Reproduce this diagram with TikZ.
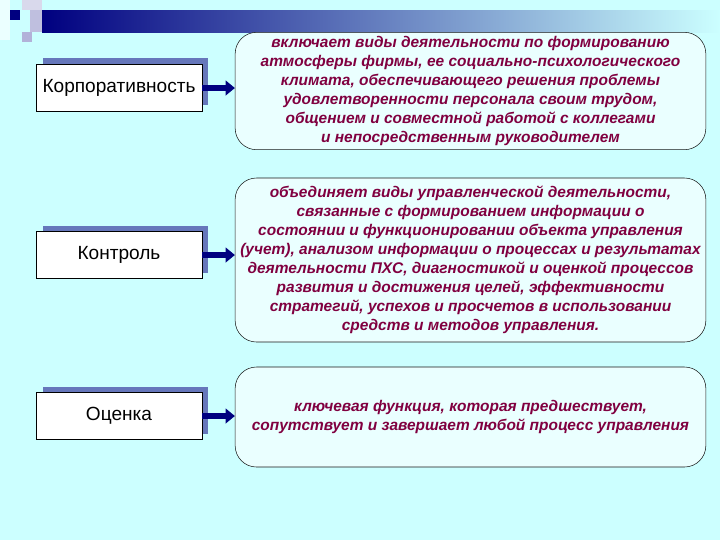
\documentclass[tikz,border=0pt]{standalone}
\usepackage{fontspec}
\setmainfont{Liberation Sans}
\usetikzlibrary{arrows.meta}
\definecolor{bg}{HTML}{CCFFFF}
\definecolor{navy}{HTML}{000080}
\definecolor{shad}{HTML}{6677BB}
\definecolor{txt}{HTML}{800040}
\definecolor{rfill}{HTML}{EAFFFF}
\tikzset{x=0.75pt,y=-0.75pt,
 lbox/.style={draw=black,fill=white,minimum width=124.5pt,minimum height=35pt,font=\fontsize{14.3}{16}\selectfont,inner sep=0pt},
 rbox/.style={draw=black!90,fill=rfill,rounded corners=16pt,minimum width=353pt,align=center,text=txt,font=\fontsize{11.6}{14.2}\selectfont\bfseries\itshape,inner sep=1pt},
 arr/.style={navy,line width=4.5pt,-{Triangle[length=7pt,width=11pt]}}}
\begin{document}
\begin{tikzpicture}
\useasboundingbox[fill=bg] (0,0) rectangle (720,540);
% decoration
\shade[left color=navy,right color=bg] (42,10) rectangle (720,32);
\fill[navy!15] (22,0) rectangle (42,10);
\fill[navy!25] (30,10) rectangle (42,32);
\fill[navy!30] (22,32) rectangle (32,42);
\fill[white!60!bg] (0,0) rectangle (10,40);
\fill[navy] (10,10) rectangle (20,20);
% left boxes with shadows
\foreach \y in {58,226,387}{\fill[shad] (43,\y) rectangle (208,\y+47);}
\node[lbox] (k) at (119,88) {Корпоративность};
\node[lbox] (c) at (119,255) {Контроль};
\node[lbox] (o) at (119,416) {Оценка};
% right boxes
\node[rbox,minimum height=88pt] (r1) at (470.5,91) {включает виды деятельности по формированию\\атмосферы фирмы, ее социально-психологического\\климата, обеспечивающего решения проблемы\\удовлетворенности персонала своим трудом,\\общением и совместной работой с коллегами\\и непосредственным руководителем};
\node[rbox,minimum height=123pt] (r2) at (470.5,260) {объединяет виды управленческой деятельности,\\связанные с формированием информации о\\состоянии и функционировании объекта управления\\(учет), анализом информации о процессах и результатах\\деятельности ПХС, диагностикой и оценкой процессов\\развития и достижения целей, эффективности\\стратегий, успехов и просчетов в использовании\\средств и методов управления.};
\node[rbox,minimum height=75pt] (r3) at (470.5,417) {ключевая функция, которая предшествует,\\сопутствует и завершает любой процесс управления};
\draw[arr] (k.east) -- (k.east -| r1.west);
\draw[arr] (c.east) -- (c.east -| r2.west);
\draw[arr] (o.east) -- (o.east -| r3.west);
\end{tikzpicture}
\end{document}
